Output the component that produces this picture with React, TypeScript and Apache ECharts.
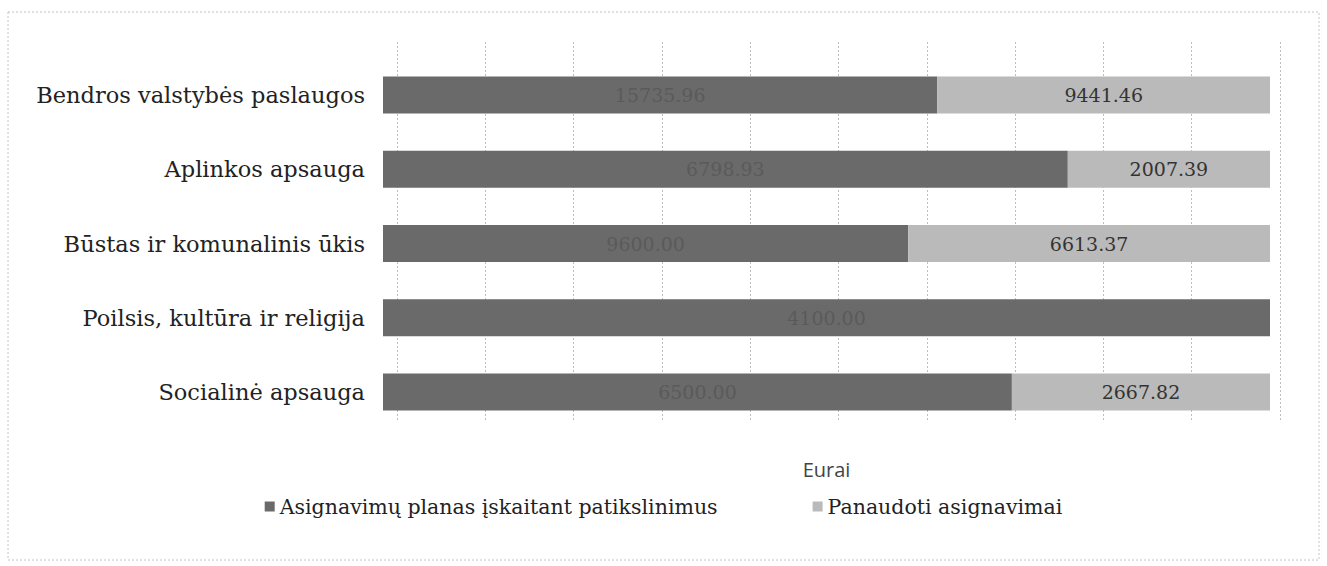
import React, { useEffect, useRef } from "react";
import * as echarts from "echarts";

const categories = [
  "Bendros valstybės paslaugos",
  "Aplinkos apsauga",
  "Būstas ir komunalinis ūkis",
  "Poilsis, kultūra ir religija",
  "Socialinė apsauga",
];
const planValues = [15735.96, 6798.93, 9600.0, 4100.0, 6500.0];
const usedValues = [9441.46, 2007.39, 6613.37, 0, 2667.82];
const seriesNames = ["Asignavimų planas įskaitant patikslinimus", "Panaudoti asignavimai"];
const axisName = "Eurai";

export default function App() {
  const ref = useRef<HTMLDivElement>(null);
  useEffect(() => {
    if (!ref.current) return;
    const chart = echarts.init(ref.current, undefined, { renderer: "svg" });
    const totals = planValues.map((p, i) => p + usedValues[i]);
    const cats = [...categories].reverse();
    const mk = (arr: number[]) =>
      arr
        .map((v, i) => ({ value: (v / totals[i]) * 100, raw: v }))
        .reverse();
    const serif = "'DejaVu Serif', 'Liberation Serif', serif";
    chart.setOption({
      animation: false,
      backgroundColor: "#fff",
      grid: [
        { left: 383, right: 57, top: 58, bottom: 137 },
        { left: 397, right: 47, top: 42, bottom: 146 },
      ],
      xAxis: [
        {
          gridIndex: 0,
          type: "value",
          min: 0,
          max: 100,
          interval: 10,
          axisLabel: { show: false },
          axisLine: { show: false },
          axisTick: { show: false },
          splitLine: { show: false },
          name: axisName,
          nameLocation: "middle",
          nameGap: 30,
          nameTextStyle: { fontFamily: "'Open Sans', sans-serif", fontSize: 20, color: "#444" },
        },
        {
          gridIndex: 1,
          type: "value",
          min: 0,
          max: 100,
          interval: 10,
          axisLabel: { show: false },
          axisLine: { show: false },
          axisTick: { show: false },
          splitLine: { show: true, lineStyle: { color: "#bdbdbd", type: [2, 2], width: 1 } },
        },
      ],
      yAxis: [
        {
          gridIndex: 0,
          type: "category",
          data: cats,
          axisLine: { show: false },
          axisTick: { show: false },
          axisLabel: { fontFamily: serif, fontSize: 22.5, color: "#222", margin: 18 },
        },
        {
          gridIndex: 1,
          type: "category",
          data: cats,
          show: false,
        },
      ],
      legend: {
        bottom: 44,
        left: "center",
        itemWidth: 10,
        itemHeight: 10,
        itemGap: 95,
        icon: "rect",
        textStyle: { fontFamily: serif, fontSize: 20.5, color: "#222" },
        data: seriesNames,
      },
      series: [
        {
          name: seriesNames[0],
          type: "bar",
          stack: "a",
          xAxisIndex: 0,
          yAxisIndex: 0,
          barWidth: 37,
          itemStyle: { color: "#6a6a6a" },
          label: {
            show: true,
            position: "inside",
            fontFamily: serif,
            fontSize: 19,
            color: "#5a5a5a",
            formatter: (p: any) => p.data.raw.toFixed(2),
          },
          data: mk(planValues),
        },
        {
          name: seriesNames[1],
          type: "bar",
          stack: "a",
          xAxisIndex: 0,
          yAxisIndex: 0,
          barWidth: 37,
          itemStyle: { color: "#bababa" },
          label: {
            show: true,
            position: "inside",
            fontFamily: serif,
            fontSize: 19,
            color: "#333",
            formatter: (p: any) => (p.data.raw > 0 ? p.data.raw.toFixed(2) : ""),
          },
          data: mk(usedValues),
        },
      ],
      graphic: [
        {
          type: "rect",
          shape: { x: 8, y: 12, width: 1311, height: 548 },
          style: { fill: "none", stroke: "#c4c4c4", lineWidth: 1, lineDash: [2, 2] },
          silent: true,
        },
      ],
    });
    return () => chart.dispose();
  }, []);
  return (
    <div
      ref={ref}
      style={{ position: "fixed", left: 0, top: 0, width: 1327, height: 566 }}
    />
  );
}
